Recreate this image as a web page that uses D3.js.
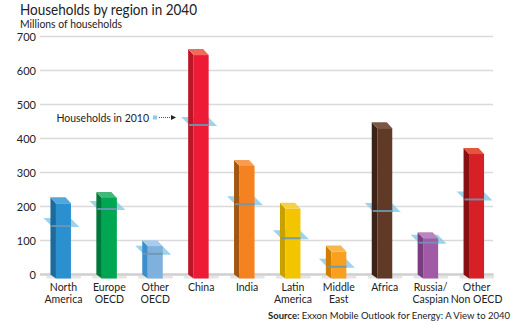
<!DOCTYPE html>
<html>
<head>
<meta charset="utf-8">
<script src="https://cdn.jsdelivr.net/npm/d3@7"></script>
<style>
  body { margin: 0; background: #fff; }
  text { font-family: Lato, "Noto Sans", sans-serif; fill: #222; }
</style>
</head>
<body>
<div id="chart-area"></div>
<script>
// data (millions of households)
const regions = ["North America", "Europe OECD", "Other OECD", "China", "India",
  "Latin America", "Middle East", "Africa", "Russia/ Caspian", "Other Non OECD"];
const labelLines = [["North", "America"], ["Europe", "OECD"], ["Other", "OECD"], ["China"], ["India"],
  ["Latin", "America"], ["Middle", "East"], ["Africa"], ["Russia/", "Caspian"], ["Other", "Non OECD"]];
const households2040 = [227, 243, 101, 663, 337, 211, 85, 448, 124, 372];
const households2010 = [153, 203, 71, 450, 217, 117, 33, 197, 104, 231];
const yTicks = [0, 100, 200, 300, 400, 500, 600, 700];

// front / side / top colours per bar
const colFront = ["#2a90cf", "#00a651", "#7fb1dc", "#ed1b36", "#f58220", "#f2c500", "#f8a01f", "#603a27", "#a15aa5", "#d71f26"];
const colSide = ["#1d6a9b", "#00783b", "#3d8fcc", "#bb1628", "#a3560f", "#c6a100", "#d07f00", "#3d2315", "#7a3d80", "#880f12"];
const colTop = ["#52a7dd", "#40b877", "#a7cdee", "#f26a5a", "#f89c4f", "#f5d147", "#f9b64c", "#7b5646", "#bc84bf", "#e2553f"];

const W = 520, H = 325;
const DX = 5.5, DY = 6, HALF = 7.5; // 3d depth, half front width

const svg = d3.select("#chart-area").append("svg")
  .attr("width", W).attr("height", H);

const x = d3.scaleBand().domain(regions).range([40.5, 499.5]).padding(0);
const y = d3.scaleLinear().domain([0, 700]).range([274.5, 36.5]);
const cx = (d) => x(d) + x.bandwidth() / 2;

// gridlines
svg.append("g").selectAll("line").data(yTicks).join("line")
  .attr("x1", 40).attr("x2", 493)
  .attr("y1", (d) => y(d)).attr("y2", (d) => y(d))
  .attr("stroke", (d) => d === 0 ? "#cfcfcf" : "#dadada")
  .attr("stroke-width", (d) => d === 0 ? 2.5 : 1.5);

// soft floor shadow next to each bar
svg.append("g").selectAll("rect").data(regions).join("rect")
  .attr("x", (d) => cx(d) - HALF - DX - 4).attr("y", y(0) - 1)
  .attr("width", HALF * 2 + DX + 14).attr("height", 5)
  .attr("fill", "#d4d4d4").attr("opacity", 0.6);

// y axis labels
const yAxis = svg.append("g").attr("transform", "translate(36,0)")
  .call(d3.axisLeft(y).tickValues(yTicks).tickSize(0).tickPadding(0));
yAxis.select(".domain").remove();
yAxis.selectAll("text").attr("font-size", "11px").attr("font-family", "Lato, sans-serif").attr("fill", "#222");

// title
svg.append("text").attr("x", 20).attr("y", 15).attr("font-size", "15px")
  .attr("textLength", 177).attr("lengthAdjust", "spacingAndGlyphs")
  .text("Households by region in 2040");
svg.append("text").attr("x", 20).attr("y", 27.5).attr("font-size", "11px")
  .attr("textLength", 102).attr("lengthAdjust", "spacingAndGlyphs")
  .text("Millions of households");

// 2010 planes (behind the bars)
const plane = (d, v) => {
  const c = cx(d), m = y(v);
  return [[c - 20, m - 4.5], [c + 7, m - 4.5], [c + 16, m + 4.5], [c - 11, m + 4.5]];
};
svg.append("g").selectAll("polygon").data(regions).join("polygon")
  .attr("points", (d, i) => plane(d, households2010[i]).join(" "))
  .attr("fill", "#8ccbea").attr("opacity", 0.85);

// bars
const bars = svg.append("g").selectAll("g").data(regions).join("g");
bars.append("polygon") // side
  .attr("points", (d, i) => {
    const c = cx(d), t = y(households2040[i]), b = y(0);
    return [[c - HALF - DX, t], [c - HALF, t + DY], [c - HALF, b + 4], [c - HALF - DX, b]].join(" ");
  })
  .attr("fill", (d, i) => colSide[i]);
bars.append("polygon") // top
  .attr("points", (d, i) => {
    const c = cx(d), t = y(households2040[i]);
    return [[c - HALF - DX, t], [c + HALF - DX, t], [c + HALF, t + DY], [c - HALF, t + DY]].join(" ");
  })
  .attr("fill", (d, i) => colTop[i]);
bars.append("rect") // front
  .attr("x", (d) => cx(d) - HALF)
  .attr("y", (d, i) => y(households2040[i]) + DY)
  .attr("width", HALF * 2)
  .attr("height", (d, i) => y(0) + 4 - y(households2040[i]) - DY)
  .attr("fill", (d, i) => colFront[i]);

// 2010 line across the bar
bars.append("line")
  .attr("x1", (d) => cx(d) - HALF - DX + 1).attr("x2", (d) => cx(d) + HALF)
  .attr("y1", (d, i) => y(households2010[i]) + 3.5).attr("y2", (d, i) => y(households2010[i]) + 3.5)
  .attr("stroke", "#6c98b3").attr("stroke-width", 2).attr("opacity", 0.9);

// x labels
const xl = svg.append("g").selectAll("text").data(regions).join("text")
  .attr("x", (d) => cx(d)).attr("y", 291)
  .attr("text-anchor", "middle").attr("font-size", "10.5px");
xl.selectAll("tspan").data((d, i) => labelLines[i]).join("tspan")
  .attr("x", function () { return d3.select(this.parentNode).attr("x"); })
  .attr("dy", (d, i) => i === 0 ? 0 : 11.5)
  .text((d) => d);

// annotation for the 2010 marker
const ann = y(households2010[3]) - 4;
svg.append("text").attr("x", 149).attr("y", ann + 4).attr("text-anchor", "end")
  .attr("font-size", "10.5px").text("Households in 2010");
svg.append("rect").attr("x", 153).attr("y", ann - 2).attr("width", 4).attr("height", 4).attr("fill", "#8ccbea");
svg.append("line").attr("x1", 159).attr("x2", 171).attr("y1", ann).attr("y2", ann)
  .attr("stroke", "#222").attr("stroke-width", 0.8).attr("stroke-dasharray", "1,1");
svg.append("path").attr("d", `M171,${ann - 2.5} L176,${ann} L171,${ann + 2.5} Z`).attr("fill", "#222");

// source
const src = svg.append("text").attr("x", 510).attr("y", 318.5).attr("text-anchor", "end")
  .attr("font-size", "9.5px")
  .attr("font-family", "'Liberation Sans Narrow', 'Liberation Sans', sans-serif");
src.append("tspan").attr("font-weight", "bold").text("Source: ");
src.append("tspan").text("Exxon Mobile Outlook for Energy: A View to 2040");
</script>
</body>
</html>
